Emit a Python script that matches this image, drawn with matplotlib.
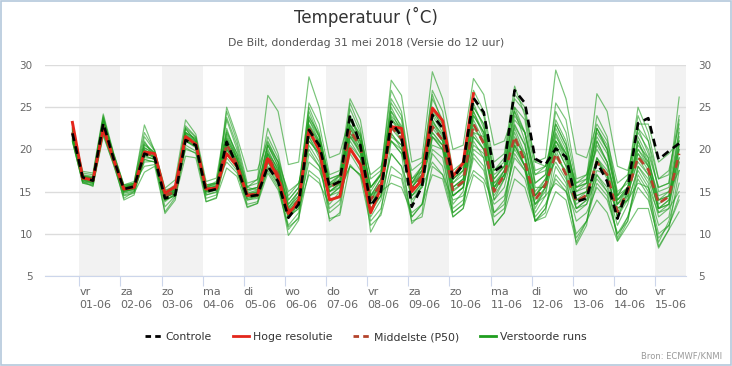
import pandas as pd
import matplotlib
matplotlib.use("Agg")
import matplotlib.pyplot as plt
from matplotlib.lines import Line2D
from matplotlib.patches import Rectangle

# 6-uurlijkse tijdstappen, run van do 31 mei 12 UTC
times = pd.date_range("2018-05-31 20:00", periods=60, freq="6h")
days = pd.date_range("2018-06-01", periods=15, freq="D")
day_names = ["vr", "za", "zo", "ma", "di", "wo", "do", "vr",
             "za", "zo", "ma", "di", "wo", "do", "vr"]
day_labels = [f"{n}\n{d:%d-%m}" for n, d in zip(day_names, days)]

controle = [21.9, 16.7, 16.3, 23.1, 18.9, 15.3, 15.6, 19.5, 19.0, 14.2, 14.6, 21.1,
            20.5, 15.0, 15.3, 20.9, 18.0, 14.4, 14.6, 18.0, 16.2, 11.9, 13.5, 22.3,
            20.5, 15.6, 16.2, 24.1, 20.5, 13.3, 15.0, 23.3, 21.5, 13.2, 15.6, 24.1,
            22.5, 16.6, 18.2, 26.1, 24.4, 17.4, 18.2, 27.0, 25.5, 18.9, 18.2, 20.1,
            19.1, 13.8, 14.2, 18.5, 16.2, 11.8, 15.4, 23.1, 23.7, 18.8, 19.8, 20.7]

hoge_resolutie = [23.2, 16.6, 16.4, 22.4, 18.8, 15.3, 15.5, 19.7, 19.5, 14.8,
                  15.6, 21.5, 20.6, 15.3, 15.4, 19.5, 18.0, 14.6, 14.6, 18.9,
                  16.6, 12.4, 13.8, 22.3, 19.9, 14.0, 14.4, 20.1, 18.2, 12.5,
                  15.4, 22.7, 22.5, 15.0, 16.4, 24.9, 23.4, 16.8, 18.4, 26.6]

middelste = [22.0, 16.6, 16.3, 22.8, 18.9, 15.3, 15.6, 19.6, 19.2, 14.5, 15.0, 21.5,
             20.7, 15.2, 15.4, 20.6, 18.3, 14.5, 14.8, 19.2, 17.0, 12.6, 14.0, 22.5,
             20.2, 15.5, 16.2, 22.3, 20.3, 14.0, 16.0, 22.7, 21.3, 15.2, 16.8, 22.7,
             21.1, 15.2, 16.2, 23.0, 20.7, 15.0, 17.0, 21.5, 18.5, 14.0, 15.8, 19.5,
             17.0, 13.8, 14.6, 18.5, 17.0, 12.6, 15.0, 19.1, 17.6, 13.6, 14.4, 19.5]

verstoorde_runs = [
    [21.5, 16.8, 16.6, 23.5, 19.2, 15.0, 15.4, 20.5, 19.6, 14.2, 15.3, 22.4, 21.0, 15.6, 15.9, 21.8,
     19.0, 15.2, 15.5, 20.5, 18.0, 13.5, 15.0, 24.5, 21.5, 16.5, 17.0, 24.8, 22.0, 15.5, 17.2, 25.5,
     23.5, 16.0, 18.0, 26.5, 23.0, 17.0, 18.5, 27.0, 24.5, 18.5, 19.5, 27.5, 24.0, 17.5, 18.0, 23.0,
     20.5, 15.5, 16.0, 22.0, 20.0, 14.5, 16.5, 24.0, 21.0, 15.0, 15.5, 22.0],
    [21.0, 16.0, 15.8, 21.8, 18.2, 14.2, 15.0, 18.8, 18.5, 13.2, 14.5, 20.2, 19.5, 14.2, 14.6, 19.0,
     17.5, 13.5, 13.8, 17.8, 15.8, 10.5, 12.0, 19.5, 18.0, 13.0, 14.0, 19.5, 17.5, 11.5, 13.0, 18.0,
     17.0, 12.0, 13.5, 19.5, 18.0, 12.5, 13.5, 19.0, 17.5, 12.0, 13.0, 18.0, 16.5, 12.0, 13.5, 16.5,
     15.0, 10.0, 11.5, 16.0, 14.5, 10.0, 12.0, 15.5, 14.0, 9.5, 11.0, 14.5],
    [22.3, 17.0, 16.8, 23.8, 19.5, 15.8, 16.0, 22.9, 19.8, 15.2, 15.5, 21.0, 20.5, 15.5, 16.0, 22.0,
     19.5, 15.5, 16.5, 26.4, 24.5, 18.2, 18.5, 28.6, 25.0, 19.0, 19.5, 24.0, 21.5, 17.0, 18.0, 21.0,
     19.5, 15.5, 17.0, 20.5, 20.0, 16.5, 17.5, 22.5, 21.0, 16.5, 18.0, 24.0, 22.0, 17.0, 17.5, 21.0,
     19.0, 15.5, 16.5, 21.5, 19.5, 14.0, 15.5, 20.0, 18.5, 14.5, 15.0, 17.5],
    [22.5, 17.2, 17.0, 24.0, 19.0, 15.5, 15.8, 21.0, 19.0, 14.8, 15.2, 22.0, 21.2, 15.0, 15.2, 25.0,
     21.5, 17.4, 17.6, 21.0, 18.5, 15.0, 16.0, 21.0, 19.5, 15.0, 15.5, 20.5, 19.0, 13.0, 14.5, 23.5,
     22.5, 17.5, 18.5, 24.0, 22.0, 16.0, 17.0, 25.5, 22.5, 17.5, 19.0, 26.0, 24.5, 18.5, 19.0, 29.4,
     26.0, 19.5, 19.0, 23.0, 21.0, 16.0, 17.0, 22.5, 21.0, 16.5, 17.0, 24.0],
    [21.2, 16.2, 15.6, 22.5, 18.6, 14.0, 14.6, 19.2, 18.8, 12.4, 14.0, 21.8, 20.4, 13.8, 14.2, 20.0,
     17.8, 13.2, 13.6, 18.5, 16.2, 9.8, 11.6, 21.5, 19.5, 11.5, 12.5, 21.5, 19.5, 10.2, 12.5, 21.0,
     19.5, 11.2, 12.5, 21.5, 20.0, 12.0, 13.0, 21.0, 19.0, 11.0, 12.5, 21.0, 18.0, 11.5, 12.5, 20.0,
     17.0, 8.7, 11.0, 19.0, 16.5, 9.2, 11.5, 18.0, 16.0, 8.5, 10.5, 17.5],
    [21.8, 16.6, 16.4, 23.2, 19.0, 15.4, 15.7, 19.8, 19.0, 14.4, 14.8, 21.3, 20.6, 15.0, 15.3, 21.0,
     18.2, 14.5, 14.7, 18.5, 16.5, 12.0, 13.5, 22.8, 20.8, 15.8, 16.5, 24.0, 20.8, 13.5, 15.2, 23.5,
     21.8, 13.5, 15.8, 24.3, 22.5, 16.4, 18.0, 26.0, 24.0, 17.5, 18.5, 26.5, 25.0, 18.5, 18.0, 21.0,
     19.5, 14.0, 14.5, 19.0, 17.0, 12.0, 15.0, 23.0, 23.0, 18.5, 19.5, 21.0],
    [22.2, 16.9, 16.6, 22.2, 18.5, 15.1, 15.2, 18.5, 18.6, 14.8, 15.6, 22.5, 20.9, 15.4, 15.6, 20.2,
     18.0, 14.2, 14.4, 19.8, 17.5, 13.0, 14.5, 23.5, 21.0, 16.0, 16.8, 22.8, 20.5, 14.5, 16.5, 24.5,
     22.0, 14.0, 15.5, 21.5, 20.5, 14.5, 15.5, 22.0, 20.0, 14.0, 16.5, 22.5, 19.5, 13.0, 15.5, 22.5,
     20.0, 15.0, 15.5, 21.0, 18.5, 13.0, 14.0, 21.0, 18.0, 12.5, 13.5, 22.5],
    [21.6, 16.4, 16.1, 22.6, 18.7, 15.0, 15.3, 19.4, 19.3, 14.6, 15.2, 21.0, 20.3, 15.3, 15.7, 22.5,
     19.0, 14.8, 15.2, 19.0, 17.2, 12.8, 14.2, 21.5, 19.0, 14.5, 15.5, 23.5, 21.5, 15.5, 17.0, 21.5,
     20.5, 15.5, 17.0, 23.5, 21.5, 14.5, 15.5, 20.5, 19.5, 15.5, 17.5, 23.0, 20.5, 15.0, 16.5, 18.5,
     16.5, 13.0, 14.0, 17.0, 15.5, 11.0, 13.5, 18.0, 16.5, 12.0, 13.0, 20.0],
    [21.4, 16.3, 16.0, 22.0, 18.4, 15.6, 16.0, 18.0, 18.2, 14.0, 14.6, 20.0, 19.6, 15.6, 16.2, 18.5,
     17.2, 14.0, 14.2, 17.5, 15.5, 12.0, 13.0, 18.5, 17.5, 14.5, 15.5, 18.0, 17.0, 13.0, 14.5, 19.5,
     18.0, 14.5, 15.5, 18.5, 17.0, 14.0, 14.5, 17.5, 16.5, 13.5, 14.5, 19.0, 17.5, 13.5, 14.5, 16.0,
     15.0, 12.5, 13.5, 16.5, 15.0, 13.0, 14.0, 16.0, 15.5, 12.5, 13.0, 15.0],
    [22.0, 16.7, 16.5, 23.0, 19.1, 15.5, 15.9, 21.5, 19.8, 14.7, 15.4, 22.8, 21.5, 15.5, 15.8, 23.5,
     20.0, 15.5, 15.2, 20.5, 18.0, 13.2, 14.5, 25.5, 23.0, 17.0, 17.5, 26.0, 23.5, 16.5, 17.5, 27.0,
     24.5, 16.5, 17.5, 27.0, 24.5, 17.5, 18.5, 24.5, 22.0, 16.5, 18.0, 25.0, 23.5, 16.0, 17.0, 24.5,
     22.0, 16.0, 16.5, 26.6, 24.5, 18.0, 17.5, 22.0, 20.0, 15.5, 16.0, 26.2],
    [21.0, 16.1, 16.2, 22.3, 18.8, 15.2, 15.5, 19.0, 18.9, 14.3, 14.9, 21.0, 20.2, 14.8, 15.2, 20.0,
     18.4, 14.4, 14.6, 19.5, 17.0, 11.8, 13.5, 22.0, 20.0, 15.0, 16.0, 22.5, 20.0, 12.5, 14.5, 22.0,
     20.0, 15.0, 16.5, 22.0, 20.5, 13.5, 15.0, 23.5, 21.0, 14.0, 15.5, 20.5, 18.0, 12.5, 14.5, 21.0,
     18.5, 13.0, 13.5, 17.5, 17.0, 12.0, 14.0, 17.5, 15.5, 11.0, 12.0, 18.5],
    [22.6, 17.4, 17.2, 24.2, 19.6, 15.8, 16.2, 22.0, 19.9, 15.4, 16.4, 23.5, 21.8, 16.2, 16.6, 23.8,
     20.5, 15.6, 16.0, 22.5, 19.5, 14.0, 15.5, 25.0, 22.0, 16.0, 16.0, 21.0, 19.0, 14.5, 16.0, 24.0,
     22.5, 16.0, 17.5, 25.0, 22.5, 15.5, 16.5, 24.0, 22.0, 16.0, 17.5, 24.5, 21.0, 14.5, 16.0, 23.5,
     21.0, 15.0, 16.0, 24.0, 21.5, 14.5, 15.5, 20.0, 18.0, 13.0, 14.0, 21.0],
    [21.3, 16.5, 16.3, 22.9, 18.8, 14.8, 15.1, 18.8, 18.5, 13.8, 14.8, 20.5, 19.8, 14.6, 14.9, 19.5,
     17.8, 14.0, 14.4, 18.0, 16.0, 11.0, 12.5, 20.5, 18.5, 12.5, 13.5, 20.0, 18.5, 12.0, 14.0, 19.5,
     18.0, 12.0, 13.5, 20.0, 19.0, 13.0, 14.0, 19.5, 18.0, 12.5, 14.0, 19.5, 17.5, 11.5, 13.0, 17.0,
     15.5, 9.5, 11.5, 17.0, 15.0, 9.5, 12.0, 16.5, 14.5, 9.0, 11.5, 16.0],
    [22.4, 16.8, 16.5, 23.4, 19.3, 15.3, 15.6, 20.8, 19.5, 14.6, 15.5, 22.0, 21.3, 15.2, 15.4, 21.5,
     19.0, 14.6, 14.9, 20.0, 17.5, 12.5, 14.0, 23.0, 21.0, 15.0, 16.0, 23.0, 21.0, 14.0, 15.5, 26.0,
     24.0, 16.0, 17.0, 23.0, 21.0, 15.0, 16.0, 25.0, 23.0, 15.5, 16.5, 20.0, 18.0, 13.5, 15.5, 25.5,
     23.5, 16.5, 17.0, 22.5, 20.0, 14.5, 16.5, 25.0, 22.0, 16.5, 17.5, 23.0],
    [21.7, 16.5, 16.2, 22.4, 18.9, 15.4, 15.8, 20.2, 19.4, 14.0, 14.5, 21.2, 20.8, 15.8, 16.0, 20.8,
     18.6, 15.0, 15.5, 19.5, 17.8, 13.5, 15.0, 21.0, 19.5, 14.0, 14.5, 22.0, 20.0, 14.5, 16.5, 21.0,
     20.0, 15.5, 17.5, 22.0, 20.5, 15.5, 16.5, 21.5, 20.0, 15.0, 17.0, 21.0, 19.5, 14.5, 16.0, 19.0,
     17.5, 13.5, 14.5, 19.0, 17.5, 13.5, 15.5, 19.5, 17.5, 14.0, 14.5, 19.0],
    [22.1, 16.6, 16.4, 23.6, 19.4, 15.6, 15.9, 20.0, 19.0, 14.0, 14.6, 21.6, 20.5, 14.6, 15.0, 20.4,
     18.5, 14.6, 15.0, 19.0, 16.8, 12.2, 13.5, 24.0, 21.5, 14.5, 15.0, 25.5, 22.5, 14.5, 15.5, 25.0,
     22.5, 14.5, 16.0, 26.0, 23.5, 16.0, 17.5, 24.5, 21.5, 15.5, 17.0, 23.5, 22.0, 15.5, 15.5, 21.5,
     19.5, 14.5, 15.0, 20.5, 18.5, 13.5, 14.5, 21.5, 19.0, 13.0, 13.5, 20.5],
    [21.9, 16.4, 16.0, 22.7, 18.7, 14.6, 15.0, 19.5, 19.2, 14.4, 15.0, 21.9, 20.8, 15.1, 15.3, 24.5,
     21.0, 16.0, 16.4, 21.5, 19.0, 14.5, 16.0, 20.0, 18.0, 15.5, 17.0, 22.0, 19.5, 15.0, 17.0, 28.2,
     26.4, 18.5, 19.0, 29.2, 26.0, 20.0, 20.5, 28.4, 26.5, 20.5, 21.0, 24.5, 22.0, 17.0, 18.0, 22.0,
     19.5, 16.0, 17.0, 20.0, 18.0, 14.0, 15.0, 18.5, 17.0, 13.0, 13.5, 18.5],
    [21.5, 16.2, 15.9, 23.0, 19.0, 15.2, 15.5, 19.6, 19.0, 14.5, 15.1, 21.4, 20.6, 15.2, 15.5, 20.8,
     18.5, 14.6, 14.8, 19.5, 17.0, 12.4, 13.8, 22.5, 20.5, 15.5, 16.0, 22.5, 20.5, 14.0, 16.0, 22.5,
     21.0, 15.5, 17.0, 22.5, 21.0, 15.5, 16.5, 23.0, 20.5, 15.0, 17.0, 22.0, 19.0, 14.0, 15.5, 20.5,
     18.0, 14.0, 14.5, 18.5, 17.0, 12.5, 15.0, 19.5, 18.0, 13.5, 14.5, 20.0],
    [21.2, 16.4, 16.3, 22.6, 18.5, 14.9, 15.3, 19.3, 18.8, 14.2, 15.0, 21.0, 20.4, 15.0, 15.4, 20.5,
     18.0, 14.2, 14.5, 19.0, 16.5, 12.0, 13.0, 17.0, 16.0, 13.5, 15.0, 18.0, 17.0, 14.0, 15.0, 16.0,
     15.5, 12.5, 13.5, 17.0, 16.5, 12.0, 13.0, 17.0, 16.0, 11.0, 12.5, 16.5, 15.5, 11.5, 12.0, 15.0,
     14.0, 9.0, 11.5, 14.0, 12.5, 9.1, 11.0, 13.0, 13.0, 8.3, 10.5, 12.6],
    [22.0, 16.8, 16.6, 23.0, 19.2, 15.5, 15.8, 20.2, 19.5, 14.9, 15.3, 22.0, 21.0, 15.4, 15.6, 21.2,
     18.8, 14.8, 15.0, 20.5, 18.5, 13.0, 15.0, 23.5, 21.5, 16.0, 17.0, 21.5, 21.0, 15.5, 17.0, 23.0,
     21.0, 16.0, 18.0, 23.5, 21.0, 14.5, 15.5, 22.0, 21.5, 15.5, 17.5, 21.5, 19.0, 14.5, 16.5, 20.5,
     18.0, 14.5, 15.0, 22.5, 20.0, 14.0, 15.5, 20.5, 19.0, 14.0, 14.5, 21.5],
    [20.9, 16.0, 15.7, 21.6, 18.2, 14.5, 14.8, 17.3, 18.0, 12.6, 14.3, 19.2, 19.0, 13.8, 14.3, 17.8,
     16.8, 13.1, 13.6, 17.2, 15.2, 10.8, 11.8, 17.5, 16.5, 11.8, 12.2, 18.2, 16.8, 11.0, 12.2, 17.0,
     16.5, 11.5, 12.0, 18.0, 17.0, 12.5, 13.5, 20.0, 19.0, 12.5, 13.5, 20.5, 18.0, 11.5, 13.0, 18.0,
     16.0, 11.5, 12.5, 15.5, 14.0, 10.0, 11.5, 17.0, 15.0, 10.0, 11.0, 14.0],
    [22.3, 16.7, 16.5, 23.3, 19.1, 15.3, 15.6, 19.9, 19.4, 14.5, 15.0, 21.7, 20.9, 15.3, 15.6, 21.3,
     18.8, 14.6, 14.9, 19.3, 17.3, 12.7, 14.2, 22.8, 20.7, 15.5, 16.4, 22.9, 21.0, 14.0, 16.0, 23.8,
     21.8, 15.0, 16.5, 23.2, 21.8, 15.2, 16.0, 24.0, 22.0, 16.0, 17.0, 22.8, 20.5, 14.5, 16.0, 21.8,
     19.0, 14.0, 15.0, 21.0, 18.5, 13.5, 15.0, 21.0, 18.5, 14.0, 15.0, 20.5],
    [21.8, 16.5, 16.3, 22.8, 19.0, 15.1, 15.4, 19.5, 19.1, 14.3, 14.8, 21.2, 20.5, 15.1, 15.3, 20.5,
     18.2, 14.4, 14.7, 18.8, 16.8, 12.2, 13.6, 21.8, 19.8, 15.0, 15.8, 21.5, 19.8, 13.5, 15.5, 21.8,
     20.5, 14.5, 16.0, 21.5, 20.0, 14.5, 15.5, 21.5, 20.0, 14.5, 16.5, 20.5, 18.0, 13.5, 15.0, 19.5,
     17.0, 13.0, 14.0, 18.5, 17.0, 12.0, 14.5, 19.0, 17.0, 13.0, 14.0, 19.0],
    [22.5, 16.9, 16.7, 23.7, 19.4, 15.7, 16.0, 20.6, 19.6, 15.0, 15.8, 22.6, 21.4, 15.8, 16.0, 22.2,
     19.5, 15.2, 15.5, 20.8, 18.5, 14.0, 15.5, 23.8, 21.8, 16.5, 17.0, 23.5, 21.8, 15.5, 17.0, 24.5,
     22.8, 16.5, 18.0, 24.5, 23.0, 16.5, 17.5, 25.0, 23.0, 17.0, 18.0, 25.0, 22.0, 16.0, 17.0, 23.0,
     20.5, 15.5, 16.0, 22.5, 20.5, 15.0, 16.0, 22.5, 19.5, 15.5, 16.0, 23.5],
]

fig = plt.figure(figsize=(7.32, 3.66), dpi=100)
ax = fig.add_axes([45 / 732, 1 - 276 / 366, 641 / 732, 211 / 366])

ax.set_xlim(pd.Timestamp("2018-05-31 04:00"), pd.Timestamp("2018-06-15 18:00"))
ax.set_ylim(5, 30)

# grijze banden om de dag
for i in range(0, 15, 2):
    ax.axvspan(days[i], days[i] + pd.Timedelta(days=1), color="#f2f2f2", lw=0, zorder=0)

for run in verstoorde_runs:
    ax.plot(times, run, color="#1f9e1f", lw=0.85, alpha=0.6, zorder=2)
ax.plot(times, middelste, color="#b4432c", lw=1.9, ls=(0, (3, 2)), zorder=3)
ax.plot(times[:len(hoge_resolutie)], hoge_resolutie, color="#e3261b", lw=2.1, zorder=4)
ax.plot(times, controle, color="black", lw=1.9, ls=(0, (3, 2)), zorder=5)

ax.set_yticks(range(5, 31, 5))
ax.yaxis.grid(True, color="#dcdcdc", lw=1)
ax.set_axisbelow(True)
ax.set_xticks(days)
ax.set_xticklabels(day_labels, ha="left", linespacing=1.3)
ax.tick_params(axis="x", length=7, color="#ccd6eb", pad=1, labelsize=8, labelcolor="#666666")
ax.tick_params(axis="y", length=0, pad=9, labelsize=7.5, labelcolor="#666666")
for s in ["top", "left", "right"]:
    ax.spines[s].set_visible(False)
ax.spines["bottom"].set_color("#ccd6eb")

ax2 = ax.twinx()
ax2.set_ylim(5, 30)
ax2.set_yticks(range(5, 31, 5))
ax2.tick_params(axis="y", length=0, pad=9, labelsize=7.5, labelcolor="#666666")
for s in ax2.spines.values():
    s.set_visible(False)

fig.text(0.5, 1 - 17 / 366, "Temperatuur (˚C)", ha="center", va="center",
         fontsize=12, color="#333333")
fig.text(0.5, 1 - 43 / 366, "De Bilt, donderdag 31 mei 2018 (Versie do 12 uur)",
         ha="center", va="center", fontsize=7.8, color="#555555")

handles = [
    Line2D([], [], color="black", lw=2, ls=(0, (2, 1.5))),
    Line2D([], [], color="#e3261b", lw=2),
    Line2D([], [], color="#b4432c", lw=2, ls=(0, (2, 1.5))),
    Line2D([], [], color="#1f9e1f", lw=2),
]
labels = ["Controle", "Hoge resolutie", "Middelste (P50)", "Verstoorde runs"]
leg = fig.legend(handles, labels, loc="center", bbox_to_anchor=(0.5, 1 - 337 / 366),
                 ncol=4, frameon=False, fontsize=7.8, handlelength=1.5,
                 handletextpad=0.4, columnspacing=1.9)
for t in leg.get_texts():
    t.set_color("#333333")

fig.text(722 / 732, 1 - 356 / 366, "Bron: ECMWF/KNMI", ha="right", va="center",
         fontsize=6, color="#999999")
fig.patches.append(Rectangle((0.001, 0.002), 0.997, 0.995, transform=fig.transFigure,
                             fill=False, ec="#b4c8dc", lw=1.2))

fig.savefig("out.png", dpi=100)
